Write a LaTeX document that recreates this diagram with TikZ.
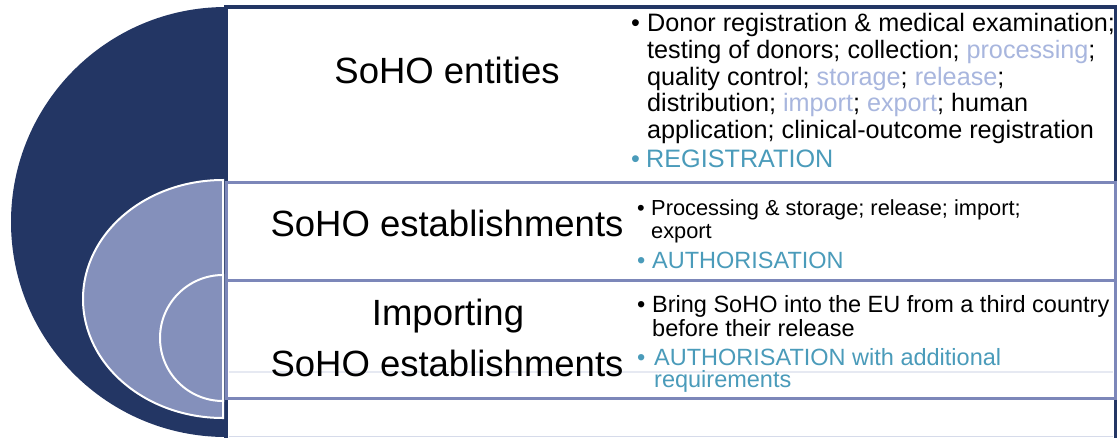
\documentclass[tikz,border=0pt]{standalone}
\usepackage{fontspec}
\setmainfont{Liberation Sans}
\definecolor{navy}{RGB}{35,54,100}
\definecolor{midblue}{RGB}{132,144,187}
\definecolor{edgeblue}{RGB}{124,135,185}
\definecolor{tealtext}{RGB}{74,155,186}
\definecolor{lightword}{RGB}{168,182,222}
\definecolor{faintline}{RGB}{230,233,242}
\definecolor{bottomline}{RGB}{214,219,234}
\newcommand{\ttlfont}{\fontsize{36.5}{40}\selectfont}
\newcommand{\bodyAfont}{\fontsize{25.2}{27}\selectfont}
\newcommand{\bodyBfont}{\fontsize{23.5}{25}\selectfont}
\newcommand{\bodyCfont}{\fontsize{21.8}{24}\selectfont}
\newcommand{\lw}[1]{\textcolor{lightword}{#1}}
\tikzset{
  ttl/.style={font=\ttlfont, anchor=base, inner sep=0pt},
  rowa/.style={font=\bodyAfont, anchor=base west, inner sep=0pt},
  rowb/.style={font=\bodyBfont, anchor=base west, inner sep=0pt},
  rowc/.style={font=\bodyCfont, anchor=base west, inner sep=0pt},
  ringshape/.style={fill=midblue, draw=white, line width=2pt},
  boxnavy/.style={fill=white, draw=navy, line width=3.5pt},
  boxmid/.style={fill=white, draw=edgeblue, line width=3pt}
}
\begin{document}
\begin{tikzpicture}[x=1pt,y=-1pt]
\useasboundingbox (0,0) rectangle (1118,437);
\begin{scope}
\clip (0,0) rectangle (1118,437);
% outer ring
\fill[navy] (226,7) arc[start angle=90, end angle=270, radius=215pt] -- cycle;
% text box of the outer ring
\draw[boxnavy] (226,7) rectangle (1115.5,446);
% middle ring
\draw[ringshape] (223,180) arc[start angle=90, end angle=270, x radius=140pt, y radius=119pt] -- cycle;
\draw[boxmid] (226,182) rectangle (1115,398.5);
\draw[boxmid] (226,280) rectangle (1115,398.5);
% inner ring
\draw[ringshape] (223,275) arc[start angle=90, end angle=270, radius=63pt] -- cycle;
% faint lines
\draw[faintline, line width=2pt] (229,371.5) -- (1113,371.5);
\draw[bottomline, line width=1.5pt] (229,436.5) -- (1113,436.5);
\end{scope}
% titles
\node[ttl] (t1) at (447,83.5) {SoHO entities};
\node[ttl] (t2) at (447,236.5) {SoHO establishments};
\node[ttl] (t3a) at (448,325) {Importing};
\node[ttl] (t3b) at (447,376.5) {SoHO establishments};
% row 1
\node[rowa] (b1) at (631,31.5) {•};
\node[rowa] (a1) at (647,31.5) {Donor registration \& medical examination;};
\node[rowa] (a2) at (647,58) {testing of donors; collection; \lw{processing};};
\node[rowa] (a3) at (647,85) {quality control; \lw{storage}; \lw{release};};
\node[rowa] (a4) at (647,111.5) {distribution; \lw{import}; \lw{export}; human};
\node[rowa] (a5) at (647,138) {application; clinical-outcome registration};
\node[rowa, text=tealtext] (b2) at (631,167) {•};
\node[rowa, text=tealtext] (a6) at (646,167) {REGISTRATION};
% row 2
\node[rowc] (b3) at (637,215) {•};
\node[rowc] (c1) at (651,215) {Processing \& storage; release; import;};
\node[rowc] (c2) at (651,238) {export};
\node[rowb, text=tealtext] (b4) at (637,268) {•};
\node[rowb, text=tealtext] (c3) at (652,268) {AUTHORISATION};
% row 3
\node[rowb] (b5) at (637,312) {•};
\node[rowb] (d1) at (652,312) {Bring SoHO into the EU from a third country};
\node[rowb] (d2) at (652,336) {before their release};
\node[rowb, text=tealtext] (b6) at (637,365) {•};
\node[rowb, text=tealtext] (d3) at (654,365) {AUTHORISATION with additional};
\node[rowb, text=tealtext] (d4) at (654,387.5) {requirements};
\end{tikzpicture}
\end{document}
